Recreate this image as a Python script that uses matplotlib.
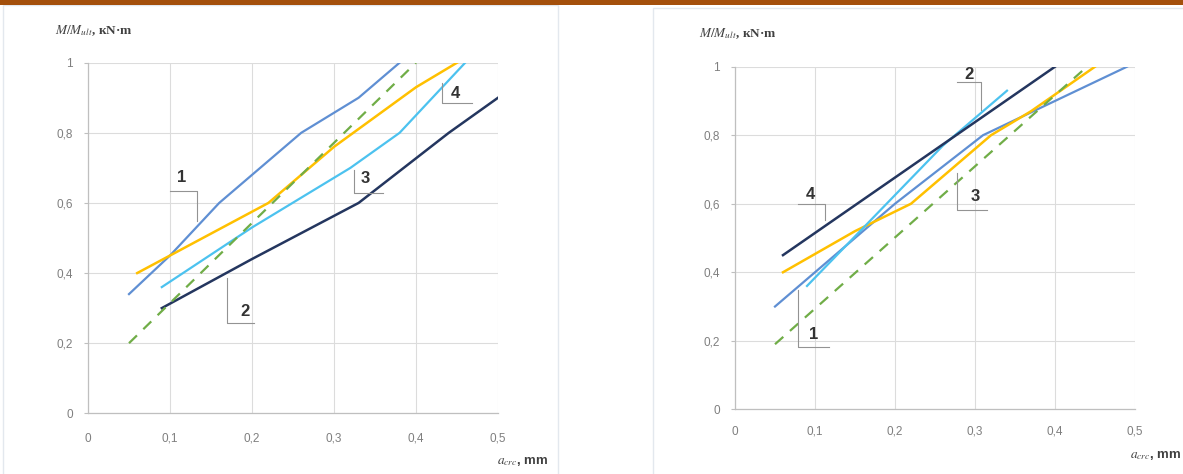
import numpy as np
import matplotlib.pyplot as plt
from matplotlib.patches import Rectangle

plt.rcParams['font.family'] = ['Liberation Sans', 'DejaVu Sans']
plt.rcParams['mathtext.fontset'] = 'stix'

# crack width a_crc (mm) vs relative moment M/M_ult, left panel
left_x1 = [0.05, 0.10, 0.16, 0.26, 0.33, 0.38]
left_y1 = [0.34, 0.45, 0.60, 0.80, 0.90, 1.00]
left_xy = [0.06, 0.10, 0.22, 0.30, 0.40, 0.45]
left_yy = [0.40, 0.45, 0.60, 0.76, 0.93, 1.00]
left_xc = [0.09, 0.20, 0.32, 0.38, 0.46]
left_yc = [0.36, 0.53, 0.70, 0.80, 1.00]
left_xn = [0.09, 0.20, 0.33, 0.44, 0.50]
left_yn = [0.30, 0.44, 0.60, 0.80, 0.90]
left_xg = [0.05, 0.40]
left_yg = [0.20, 1.00]

# right panel
right_x1 = [0.05, 0.20, 0.31, 0.40, 0.49]
right_y1 = [0.30, 0.60, 0.80, 0.90, 1.00]
right_xy = [0.06, 0.15, 0.22, 0.32, 0.37, 0.45]
right_yy = [0.40, 0.52, 0.60, 0.80, 0.87, 1.00]
right_xc = [0.09, 0.26, 0.34]
right_yc = [0.36, 0.77, 0.93]
right_xn = [0.06, 0.40]
right_yn = [0.45, 1.00]
right_xg = [0.05, 0.44]
right_yg = [0.19, 1.00]

xticks = [0, 0.1, 0.2, 0.3, 0.4, 0.5]
xticklabels = ['0', '0,1', '0,2', '0,3', '0,4', '0,5']
yticks = [0, 0.2, 0.4, 0.6, 0.8, 1.0]
yticklabels = ['0', '0,2', '0,4', '0,6', '0,8', '1']

c_blue = '#5f8fd3'
c_yellow = '#ffc000'
c_cyan = '#4cc2ef'
c_navy = '#24365f'
c_green = '#70ad47'
c_lead = '#939393'

W, H = 1183, 474
fig = plt.figure(figsize=(W / 100, H / 100), dpi=100)
fig.patch.set_facecolor('white')

# background panels and top bar (pixel coords -> figure fraction)
def px_rect(x0, y0, x1, y1, **kw):
    r = Rectangle((x0 / W, 1 - y1 / H), (x1 - x0) / W, (y1 - y0) / H,
                  transform=fig.transFigure, zorder=-10, **kw)
    fig.patches.append(r)

px_rect(3, 5, 558, 476, facecolor='white', edgecolor='#e3e8ee', linewidth=1.0)
px_rect(653, 8, 1185, 476, facecolor='white', edgecolor='#e3e8ee', linewidth=1.0)
px_rect(0, 0, W, 4.5, facecolor='#a4500c', edgecolor='none')


def setup(ax):
    ax.set_xlim(0, 0.5)
    ax.set_ylim(0, 1)
    ax.set_xticks(xticks)
    ax.set_xticklabels(xticklabels)
    ax.set_yticks(yticks)
    ax.set_yticklabels(yticklabels)
    ax.grid(True, color='#dcdcdc', linewidth=0.8)
    ax.set_axisbelow(True)
    for s in ['top', 'right']:
        ax.spines[s].set_visible(False)
    for s in ['left', 'bottom']:
        ax.spines[s].set_color('#bfbfbf')
        ax.spines[s].set_linewidth(0.9)
    ax.tick_params(axis='both', colors='#bfbfbf', labelcolor='#7f7f7f',
                   labelsize=8.5, length=3)
    ax.tick_params(axis='x', length=0, pad=14)
    ax.tick_params(axis='y', pad=8)
    ax.set_facecolor('none')
    ax.set_zorder(2)


def leader(ax, pts, label, tx, ty):
    xs, ys = zip(*pts)
    ax.plot(xs, ys, color=c_lead, linewidth=0.8, clip_on=False, zorder=4)
    ax.text(tx, ty, label, fontsize=12, fontweight='bold', color='#333333',
            ha='center', va='center', zorder=5)


# left chart
ax1 = fig.add_axes([88 / W, 1 - 413.3 / H, 410 / W, 350.6 / H])
setup(ax1)
ax1.plot(left_x1, left_y1, color=c_blue, lw=1.6)
ax1.plot(left_xy, left_yy, color=c_yellow, lw=1.8)
ax1.plot(left_xc, left_yc, color=c_cyan, lw=1.6)
ax1.plot(left_xn, left_yn, color=c_navy, lw=1.8)
ax1.plot(left_xg, left_yg, color=c_green, lw=1.6, linestyle=(0, (5, 4)))

leader(ax1, [(0.0995, 0.633), (0.133, 0.633), (0.133, 0.548)], '1', 0.114, 0.672)
leader(ax1, [(0.169, 0.386), (0.169, 0.257), (0.203, 0.257)], '2', 0.191, 0.289)
leader(ax1, [(0.324, 0.693), (0.324, 0.627), (0.36, 0.627)], '3', 0.338, 0.670)
leader(ax1, [(0.432, 0.941), (0.432, 0.884), (0.468, 0.884)], '4', 0.448, 0.913)

fig.text(55 / W, 1 - 31 / H, r'$\mathit{M/M_{ult}}$, кN·m', fontsize=9.5,
         family=['Liberation Serif', 'DejaVu Serif'], fontweight='bold',
         color='#404040', va='center', ha='left')
fig.text(548 / W, 1 - 461 / H, r'$\mathit{a_{crc}}$, mm', fontsize=9.5,
         fontweight='bold', color='#404040', va='center', ha='right')

# right chart
ax2 = fig.add_axes([735 / W, 1 - 409.3 / H, 400 / W, 342.6 / H])
setup(ax2)
ax2.tick_params(axis='x', pad=12)
ax2.plot(right_x1, right_y1, color=c_blue, lw=1.6)
ax2.plot(right_xy, right_yy, color=c_yellow, lw=1.8)
ax2.plot(right_xc, right_yc, color=c_cyan, lw=1.6)
ax2.plot(right_xn, right_yn, color=c_navy, lw=1.8)
ax2.plot(right_xg, right_yg, color=c_green, lw=1.6, linestyle=(0, (5, 4)))

leader(ax2, [(0.079, 0.348), (0.079, 0.183), (0.117, 0.183)], '1', 0.098, 0.217)
leader(ax2, [(0.277, 0.956), (0.308, 0.956), (0.308, 0.873)], '2', 0.292, 0.978)
leader(ax2, [(0.277, 0.689), (0.277, 0.582), (0.315, 0.582)], '3', 0.300, 0.620)
leader(ax2, [(0.079, 0.599), (0.1125, 0.599), (0.1125, 0.552)], '4', 0.094, 0.627)

fig.text(699 / W, 1 - 34 / H, r'$\mathit{M/M_{ult}}$, кN·m', fontsize=9.5,
         family=['Liberation Serif', 'DejaVu Serif'], fontweight='bold',
         color='#404040', va='center', ha='left')
fig.text(1181 / W, 1 - 455 / H, r'$\mathit{a_{crc}}$, mm', fontsize=9.5,
         fontweight='bold', color='#404040', va='center', ha='right')

plt.savefig('out.png', dpi=100)
